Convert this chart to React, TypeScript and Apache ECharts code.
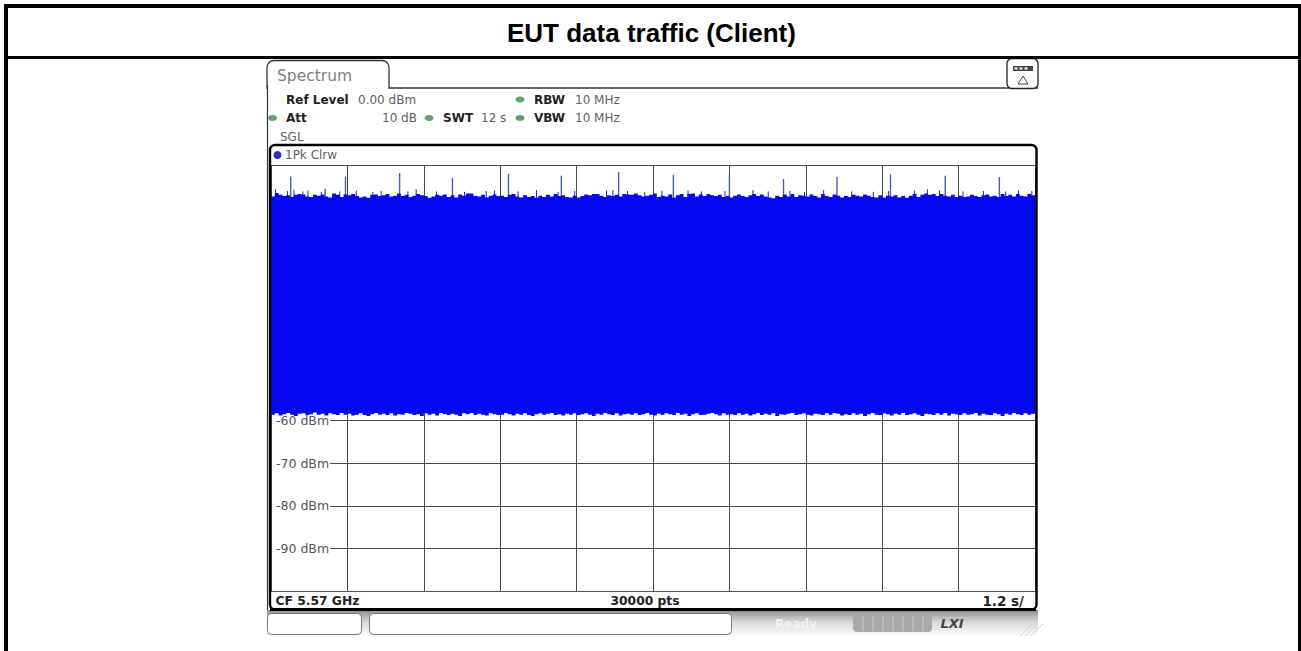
import React, { useEffect, useRef } from "react";
import * as echarts from "echarts";

const chartTitle = "EUT data traffic (Client)";
const yLabelValues = [-60, -70, -80, -90];
const stepSeconds = 0.06;

// Upper envelope of the trace (dBm), one value per step, ten divisions of 20 values
const envelopeTop = [
  -7.4, -6.6, -7.0, -7.3, -7.1, -7.5, -7.0, -6.8, -6.9, -7.4, -7.5, -7.0, -7.2, -6.9, -7.4, -7.6, -6.7, -7.0, -7.5, -6.9,
  -7.1, -6.8, -7.3, -7.6, -7.4, -7.7, -7.0, -6.9, -7.3, -7.1, -6.8, -7.4, -7.2, -6.7, -7.3, -7.0, -7.5, -7.2, -6.8, -7.1,
  -7.3, -7.7, -7.4, -7.0, -7.2, -6.9, -7.5, -7.1, -7.6, -6.9, -7.2, -6.7, -6.7, -7.3, -7.4, -7.0, -7.6, -7.2, -6.9, -7.3,
  -7.2, -7.5, -7.0, -6.8, -7.4, -7.6, -7.1, -7.5, -7.3, -7.7, -7.2, -7.5, -7.0, -7.4, -6.8, -7.3, -7.1, -7.5, -7.6, -7.2,
  -7.6, -7.3, -6.9, -7.1, -6.8, -6.8, -7.2, -7.5, -7.1, -7.3, -7.0, -7.4, -6.8, -6.9, -7.0, -6.7, -7.1, -7.4, -7.2, -7.0,
  -6.7, -7.5, -7.2, -7.4, -6.9, -7.6, -7.1, -6.8, -7.5, -6.8, -6.7, -7.4, -6.9, -7.3, -6.8, -7.1, -7.3, -7.0, -7.5, -7.3,
  -7.6, -7.2, -6.9, -7.3, -7.5, -7.1, -6.8, -7.3, -6.9, -7.4, -7.6, -7.8, -7.2, -7.5, -6.9, -7.4, -6.8, -7.5, -7.1, -7.2,
  -7.4, -6.9, -7.3, -7.6, -6.8, -7.3, -7.5, -6.9, -7.2, -7.6, -7.3, -7.5, -7.0, -7.2, -7.4, -6.9, -7.2, -7.5, -7.6, -7.1,
  -7.6, -7.2, -7.4, -7.1, -7.6, -7.3, -7.7, -7.2, -6.8, -7.5, -7.0, -6.7, -7.0, -6.8, -7.3, -6.8, -7.2, -7.4, -7.0, -7.5,
  -7.2, -7.5, -7.4, -7.0, -7.3, -7.5, -7.1, -6.9, -7.4, -7.2, -7.5, -6.8, -7.3, -7.0, -7.4, -6.8, -7.2, -7.4, -6.8, -7.1,
];

// Lower envelope of the trace (dBm)
const envelopeBottom = [
  -58.6, -58.3, -58.8, -58.5, -58.2, -58.6, -58.9, -58.4, -58.3, -58.7, -58.5, -58.1, -58.6, -58.4, -58.8, -58.3, -58.5, -58.7, -58.2, -58.6,
  -58.4, -58.8, -58.6, -58.3, -58.7, -58.9, -58.5, -58.2, -58.6, -58.4, -58.7, -58.3, -58.8, -58.5, -58.6, -58.2, -58.4, -58.7, -58.5, -58.9,
  -58.3, -58.6, -58.4, -58.8, -58.2, -58.5, -58.7, -58.4, -58.6, -58.9, -58.3, -58.5, -58.2, -58.7, -58.4, -58.6, -58.8, -58.3, -58.5, -58.7,
  -58.6, -58.2, -58.5, -58.8, -58.4, -58.6, -58.3, -58.7, -58.9, -58.5, -58.3, -58.6, -58.4, -58.2, -58.7, -58.5, -58.8, -58.4, -58.6, -58.3,
  -58.7, -58.5, -58.3, -58.6, -58.9, -58.4, -58.6, -58.2, -58.5, -58.7, -58.3, -58.8, -58.5, -58.4, -58.6, -58.3, -58.7, -58.5, -58.2, -58.6,
  -58.8, -58.4, -58.6, -58.3, -58.5, -58.7, -58.2, -58.6, -58.4, -58.9, -58.5, -58.3, -58.7, -58.6, -58.4, -58.2, -58.5, -58.8, -58.3, -58.6,
  -58.5, -58.7, -58.3, -58.6, -58.4, -58.8, -58.5, -58.2, -58.7, -58.4, -58.6, -58.3, -58.9, -58.5, -58.6, -58.4, -58.2, -58.7, -58.5, -58.3,
  -58.6, -58.8, -58.4, -58.5, -58.7, -58.3, -58.6, -58.2, -58.4, -58.8, -58.5, -58.7, -58.3, -58.6, -58.4, -58.9, -58.5, -58.2, -58.6, -58.7,
  -58.3, -58.5, -58.8, -58.4, -58.6, -58.2, -58.7, -58.5, -58.3, -58.6, -58.9, -58.4, -58.5, -58.7, -58.3, -58.6, -58.2, -58.8, -58.4, -58.5,
  -58.7, -58.3, -58.6, -58.5, -58.2, -58.8, -58.4, -58.6, -58.7, -58.3, -58.5, -58.9, -58.4, -58.6, -58.2, -58.5, -58.7, -58.3, -58.6, -58.4,
];

// Isolated burst peaks above the noise band
const spikeTimes = [0.31, 0.85, 1.17, 2.02, 2.85, 3.73, 4.56, 5.46, 6.32, 7.2, 7.57, 8.05, 8.89, 9.73, 10.59, 11.44];
const spikeLevels = [-2.7, -5.6, -2.7, -1.9, -3.0, -2.1, -2.5, -1.6, -2.3, -2.3, -5.9, -3.3, -2.8, -2.2, -2.5, -2.8];

// Narrow tips on top of the noise band
const tipTimes = [
  0.07, 0.26, 0.36, 0.5, 0.58, 0.79, 1.08, 1.34, 1.6, 1.73, 2.15, 2.28, 2.6, 3.04, 3.38, 3.51, 3.88, 4.17, 4.51, 4.77,
  5.27, 5.37, 5.6, 5.87, 6.14, 6.55, 6.76, 7.13, 7.81, 8.15, 8.38, 8.68, 9.12, 9.46, 9.7, 10.11, 10.31, 10.5, 10.87, 11.19,
  11.54, 11.74, 11.95,
];
const tipLevels = [
  -5.7, -6.1, -5.8, -6.2, -6.0, -6.3, -6.2, -6.0, -6.3, -6.1, -6.2, -5.7, -6.2, -6.3, -6.1, -6.0, -6.2, -5.9, -6.3, -6.1,
  -6.0, -5.9, -6.1, -6.3, -6.0, -6.0, -6.2, -6.1, -6.2, -6.1, -6.3, -5.9, -6.2, -6.3, -6.1, -6.0, -5.7, -6.0, -6.2, -6.1,
  -6.2, -6.0, -6.1,
];

const UI = "'DejaVu Sans', sans-serif";
const GREY = "#5f5f5f";
const DARK = "#222222";

const txt = (x: number, y: number, text: string, o: any = {}) => ({
  type: "text",
  x,
  y: y + 0.8,
  z: 20,
  style: {
    text,
    fontFamily: UI,
    fontSize: o.size ?? 12,
    fontWeight: o.bold ? "bold" : "normal",
    fontStyle: o.italic ? "italic" : "normal",
    fill: o.fill ?? (o.bold ? DARK : GREY),
    align: o.align ?? "left",
    verticalAlign: "middle",
  },
});

const led = (x: number, y: number) => ({
  type: "ellipse",
  z: 20,
  shape: { cx: x, cy: y, rx: 4.5, ry: 3 },
  style: { fill: "#5aa867" },
});

const line = (x1: number, y1: number, x2: number, y2: number, stroke: string, lineWidth: number) => ({
  type: "line",
  z: 15,
  shape: { x1, y1, x2, y2 },
  style: { stroke, lineWidth },
});

const progressTicks = [863, 873, 883, 893, 903, 913, 923];
const gripLines = [1020, 1025, 1030];

const chrome: any[] = [
  // page frame
  { type: "rect", z: 30, shape: { x: 4, y: 4, width: 1297, height: 4 }, style: { fill: "#000" } },
  { type: "rect", z: 30, shape: { x: 4, y: 4, width: 4, height: 647 }, style: { fill: "#000" } },
  { type: "rect", z: 30, shape: { x: 1298, y: 4, width: 3, height: 647 }, style: { fill: "#000" } },
  { type: "rect", z: 30, shape: { x: 4, y: 56, width: 1297, height: 3 }, style: { fill: "#000" } },
  // bottom gradient bar
  {
    type: "rect",
    z: 5,
    shape: { x: 267, y: 610, width: 771, height: 27 },
    style: {
      fill: {
        type: "linear", x: 0, y: 0, x2: 0, y2: 1,
        colorStops: [
          { offset: 0, color: "#8f8f8f" },
          { offset: 0.45, color: "#d9d9d9" },
          { offset: 1, color: "#ffffff" },
        ],
      },
    },
  },
  // tab outline
  { type: "rect", z: 6, shape: { x: 267, y: 60.5, width: 122, height: 27.5, r: [7, 7, 0, 0] }, style: { fill: "#fff", stroke: "#333", lineWidth: 1.3 } },
  { ...line(268, 88, 388.3, 88, "#fff", 2), z: 7 },
  line(389, 88, 1038, 88, "#333", 1.3),
  line(267.5, 85, 267.5, 610, "#333", 1.2),
  txt(277, 75, "Spectrum", { size: 15.5, fill: "#808080" }),
  // mode icon
  { type: "rect", z: 20, shape: { x: 1007, y: 58.5, width: 31, height: 30, r: 5 }, style: { fill: "#fff", stroke: "#222", lineWidth: 1.3 } },
  { type: "rect", z: 21, shape: { x: 1013, y: 66, width: 20, height: 5 }, style: { fill: "#44464c" } },
  { type: "rect", z: 22, shape: { x: 1014.5, y: 67.5, width: 3, height: 2 }, style: { fill: "#fff" } },
  { type: "rect", z: 22, shape: { x: 1019.5, y: 67.5, width: 3, height: 2 }, style: { fill: "#fff" } },
  { type: "rect", z: 22, shape: { x: 1024.5, y: 67.5, width: 3, height: 2 }, style: { fill: "#fff" } },
  { type: "polygon", z: 21, shape: { points: [[1023, 76], [1018, 84], [1028, 84]] }, style: { fill: "#fff", stroke: "#444", lineWidth: 1 } },
  // settings
  txt(286, 99, "Ref Level", { bold: true }),
  txt(358, 99, "0.00 dBm"),
  led(520, 99.5),
  txt(534, 99, "RBW", { bold: true }),
  txt(575, 99, "10 MHz"),
  led(272.5, 118),
  txt(286, 117.5, "Att", { bold: true }),
  txt(382, 117.5, "10 dB"),
  led(429, 118),
  txt(443, 117.5, "SWT", { bold: true }),
  txt(481, 117.5, "12 s"),
  led(520, 118),
  txt(534, 117.5, "VBW", { bold: true }),
  txt(575, 117.5, "10 MHz"),
  txt(280, 136, "SGL"),
  // trace header
  { type: "circle", z: 20, shape: { cx: 277.5, cy: 155, r: 4 }, style: { fill: "#2b2fc0" } },
  txt(285, 154.5, "1Pk Clrw"),
  // plot frame
  { type: "rect", z: 16, shape: { x: 270, y: 145, width: 766.5, height: 464.5, r: 5 }, style: { fill: "transparent", stroke: "#000", lineWidth: 2.4 } },
  line(270, 609.5, 1036, 609.5, "#000", 3),
  // footer texts
  txt(275.5, 600, "CF 5.57 GHz", { bold: true, size: 12.3 }),
  txt(645, 600, "30000 pts", { bold: true, size: 12.3, align: "center" }),
  txt(1024, 600, "1.2 s/", { bold: true, size: 13.5, align: "right" }),
  // status boxes
  { type: "rect", z: 18, shape: { x: 267.5, y: 613.5, width: 94, height: 21, r: 4 }, style: { fill: "#fff", stroke: "#777", lineWidth: 1 } },
  line(341.5, 616, 341.5, 632, "#dddddd", 1),
  { type: "rect", z: 18, shape: { x: 369.5, y: 613.5, width: 362, height: 21, r: 4 }, style: { fill: "#fff", stroke: "#777", lineWidth: 1 } },
  line(712, 616, 712, 632, "#dddddd", 1),
  txt(775, 623, "Ready", { bold: true, fill: "#f2f2f2" }),
  { type: "rect", z: 18, shape: { x: 853, y: 615, width: 79, height: 17, r: 4 }, style: { fill: "#a9a9a9" } },
  ...progressTicks.map((x) => line(x, 616, x, 631, "#c9c9c9", 1)).map((l) => ({ ...l, z: 19 })),
  txt(952, 623, "LXI", { bold: true, italic: true, size: 13, fill: "#444", align: "center" }),
  ...gripLines.map((x) => line(x, 636, x + 13, 624, "#cfcfcf", 1)),
];

const peakSeries = (name: string, times: number[], levels: number[], stroke: string, lineWidth: number) => ({
  type: "custom",
  name,
  coordinateSystem: "cartesian2d",
  z: 2,
  silent: true,
  data: times.map((t, i) => [t, levels[i]]),
  encode: { x: 0, y: 1 },
  renderItem: (_: any, api: any) => {
    const a = api.coord([api.value(0), api.value(1)]);
    const b = api.coord([api.value(0), -9]);
    return {
      type: "line",
      shape: { x1: a[0], y1: a[1], x2: b[0], y2: b[1] },
      style: { stroke, lineWidth },
    };
  },
});

export default function App() {
  const ref = useRef<HTMLDivElement>(null);

  useEffect(() => {
    const chart = echarts.init(ref.current!, undefined, { renderer: "svg" });
    const band = envelopeTop.map((top, i) => [i * stepSeconds, top, envelopeBottom[i]]);
    chart.setOption({
      animation: false,
      backgroundColor: "#fff",
      title: {
        text: chartTitle,
        left: 507,
        top: 20,
        padding: 0,
        textStyle: { fontFamily: "'Liberation Sans', Arial, sans-serif", fontSize: 26, fontWeight: "bold", color: "#000" },
      },
      grid: { left: 271, right: 266, top: 165, bottom: 60, containLabel: false },
      xAxis: {
        type: "value",
        min: 0,
        max: 12,
        interval: 1.2,
        axisLine: { show: true, onZero: false, lineStyle: { color: "#555", width: 1 } },
        axisTick: { show: false },
        axisLabel: { show: false },
        splitLine: { show: true, lineStyle: { color: "#4a4a4a", width: 1 } },
      },
      yAxis: {
        type: "value",
        min: -100,
        max: 0,
        interval: 10,
        axisLine: { show: false },
        axisTick: { show: false },
        axisLabel: {
          show: true,
          inside: true,
          margin: 1,
          customValues: yLabelValues,
          formatter: (v: number) => `${v} dBm`,
          fontFamily: UI,
          fontSize: 12.5,
          color: "#555",
          backgroundColor: "#fff",
          padding: [0, 1, 0, 4],
        },
        splitLine: { show: true, lineStyle: { color: "#4a4a4a", width: 1 } },
      },
      series: [
        {
          type: "custom",
          name: "1Pk Clrw",
          coordinateSystem: "cartesian2d",
          z: 3,
          clip: true,
          silent: true,
          data: band,
          encode: { x: 0, y: [1, 2] },
          renderItem: (params: any, api: any) => {
            if (params.dataIndex !== 0) return null;
            const stepped = (col: number) =>
              band.flatMap((d) => [api.coord([d[0], d[col]]), api.coord([d[0] + stepSeconds, d[col]])]);
            const points = [...stepped(1), ...stepped(2).reverse()];
            return { type: "polygon", shape: { points }, style: { fill: "#0408f0" } };
          },
        },
        peakSeries("Peaks", spikeTimes, spikeLevels, "#4a5cb0", 1.4),
        peakSeries("Tips", tipTimes, tipLevels, "#1c24c8", 1),
      ],
      graphic: { elements: chrome },
    });
    return () => chart.dispose();
  }, []);

  return <div ref={ref} style={{ position: "fixed", left: 0, top: 0, width: 1301, height: 651 }} />;
}
